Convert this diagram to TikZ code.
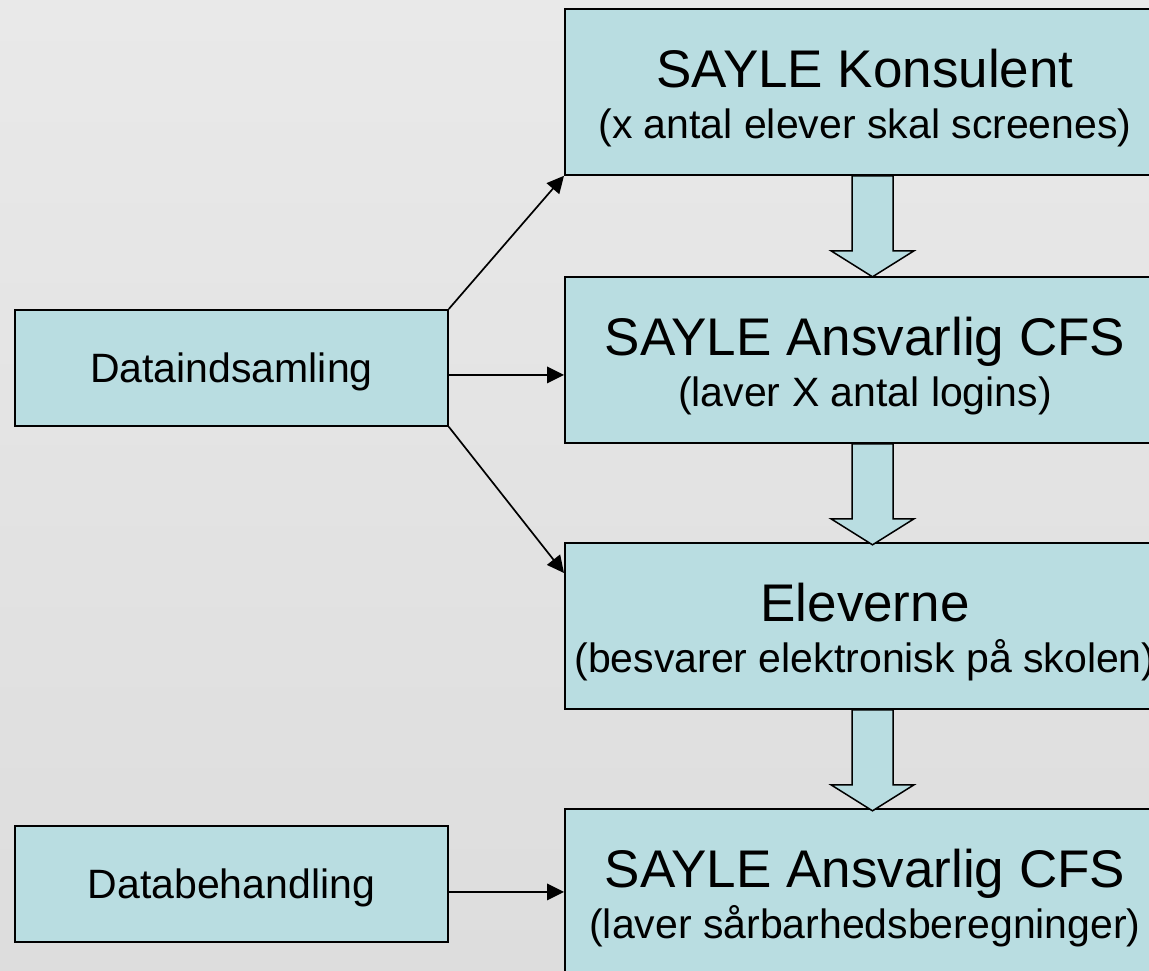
\documentclass[tikz,border=0pt]{standalone}
\usepackage{fontspec}
\setmainfont{Liberation Sans}
\usetikzlibrary{arrows.meta}
\definecolor{boxfill}{RGB}{185,221,225}
\definecolor{bgtop}{RGB}{233,233,233}
\definecolor{bgbot}{RGB}{221,221,221}
\begin{document}
\begin{tikzpicture}[x=1pt,y=-1pt,
  bigbox/.style={draw=black, line width=1.8pt, fill=boxfill, minimum width=602pt, minimum height=166pt, inner sep=0pt, anchor=north west},
  smallbox/.style={draw=black, line width=1.8pt, fill=boxfill, minimum width=433pt, minimum height=116pt, inner sep=0pt, text height=29pt, text depth=0pt, font=\fontsize{41}{41}\selectfont, anchor=north west},
  titletext/.style={anchor=base, inner sep=0pt, font=\fontsize{53}{53}\selectfont},
  subtext/.style={anchor=base, inner sep=0pt, font=\fontsize{41}{41}\selectfont},
  conn/.style={line width=1.7pt, -{Triangle[length=17pt,width=16.5pt]}},
  blockarrow/.style={draw=black, line width=1.5pt, fill=boxfill, line join=miter}]
\useasboundingbox (0,0) rectangle (1149,970);
\shade[top color=bgtop, bottom color=bgbot] (0,0) rectangle (1149,970);
% right column boxes
\node[bigbox] (b1) at (564,8) {};
\node[titletext] (b1t) at (865,87) {SAYLE Konsulent};
\node[subtext] (b1s) at (865,138) {(x antal elever skal screenes)};
\node[bigbox] (b2) at (564,276) {};
\node[titletext] (b2t) at (865,355) {SAYLE Ansvarlig CFS};
\node[subtext] (b2s) at (865,406) {(laver X antal logins)};
\node[bigbox] (b3) at (564,542) {};
\node[titletext] (b3t) at (865,621) {Eleverne};
\node[subtext] (b3s) at (865,672) {(besvarer elektronisk på skolen)};
\node[bigbox] (b4) at (564,808) {};
\node[titletext] (b4t) at (865,887) {SAYLE Ansvarlig CFS};
\node[subtext] (b4s) at (865,938) {(laver sårbarhedsberegninger)};
% left boxes
\node[smallbox] (d1) at (14,309) {Dataindsamling};
\node[smallbox] (d2) at (14,825) {Databehandling};
% connectors
\draw[conn] (d1.north east) -- (b1.south west);
\draw[conn] ([yshift=-7pt]d1.east) -- ([yshift=-7pt]d1.east -| b2.west);
\draw[conn] (d1.south east) -- ([yshift=-31pt]b3.north west);
\draw[conn] ([yshift=-8pt]d2.east) -- ([yshift=-8pt]d2.east -| b4.west);
% block arrows
\draw[blockarrow, shift={(b1.south west)}] (288,0) -- (288,75) -- (267,75) -- (308.5,101) -- (350,75) -- (329,75) -- (329,0) -- cycle;
\draw[blockarrow, shift={(b2.south west)}] (288,0) -- (288,75) -- (267,75) -- (308.5,101) -- (350,75) -- (329,75) -- (329,0) -- cycle;
\draw[blockarrow, shift={(b3.south west)}] (288,0) -- (288,75) -- (267,75) -- (308.5,101) -- (350,75) -- (329,75) -- (329,0) -- cycle;
\end{tikzpicture}
\end{document}
